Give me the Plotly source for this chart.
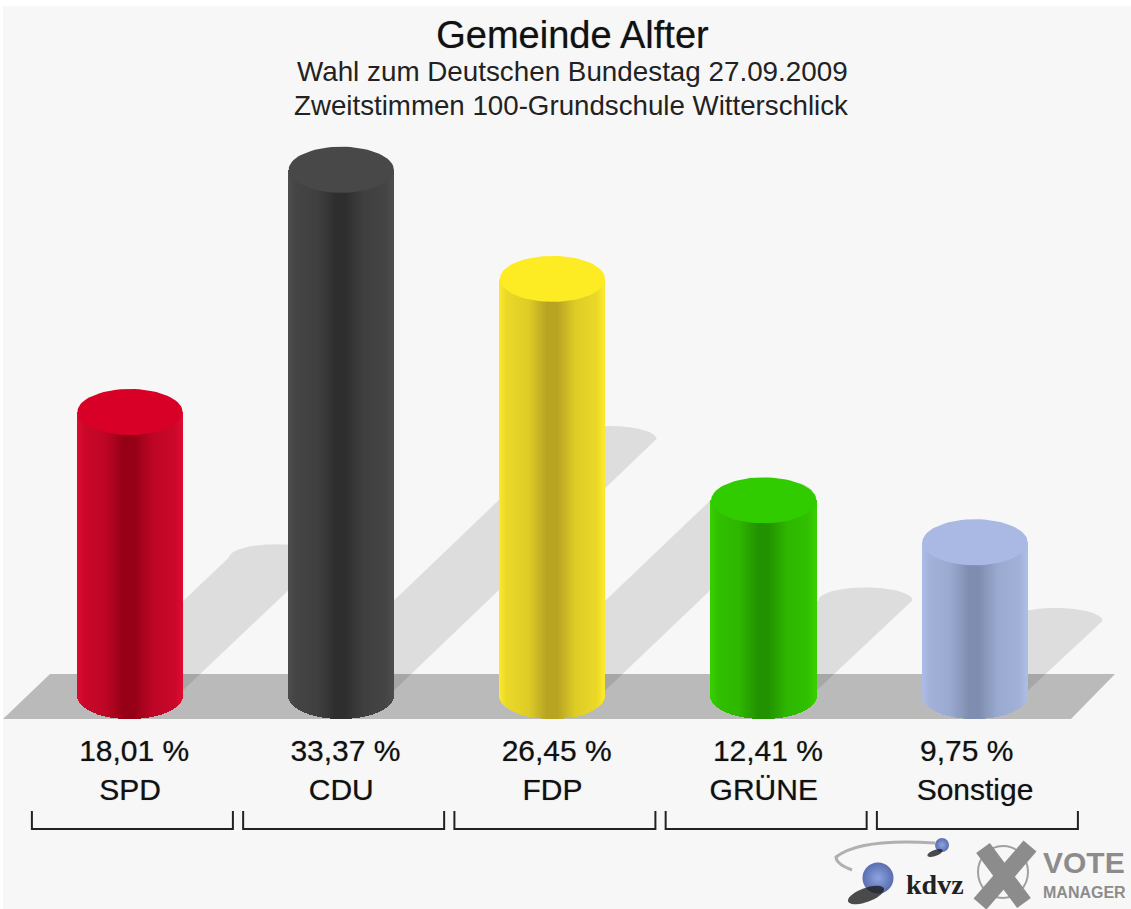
import numpy as np
import plotly.graph_objects as go

# ---- data ----
parties = ["SPD", "CDU", "FDP", "GRÜNE", "Sonstige"]
values = [18.01, 33.37, 26.45, 12.41, 9.75]
value_labels = ["\u00a018,01 %", "\u00a033,37 %", "\u00a026,45 %", "\u00a012,41 %", "9,75 %\u00a0\u00a0"]
edge_colors = ["#dc0a30", "#4c4c4c", "#fbea2a", "#36d000", "#aebde6"]
dark_colors = ["#950017", "#2e2e2e", "#b8a422", "#229300", "#7f8eb0"]
cap_colors = ["#d80027", "#484848", "#fdec24", "#30cc00", "#a9b9e4"]

# ---- layout constants (pixels) ----
W, H = 1131, 909
ML, MT = 3, 6
X0, DX = 130.0, 211.25
Y0, DY = 696.0, 15.77
BAR_RX, BAR_RY = 52.6, 23.0
SH_RX, SH_RY = 47.0, 13.0
SH_DX, SH_OFF, SH_DY = 7.95, 3.0, 7.7
BRACKET_HALF, BRACKET_OFF = 100.5, 2.4
FONT = "Liberation Sans"
BLUR = "0 0 1px rgba(0,0,0,0.45)"


def xd(px):
    return (px - X0) / DX


def yd(py):
    return (Y0 - py) / DY


def mix(a, b, f):
    ca = [int(a[i:i + 2], 16) for i in (1, 3, 5)]
    cb = [int(b[i:i + 2], 16) for i in (1, 3, 5)]
    return "rgb(%d,%d,%d)" % tuple(round(p + (q - p) * f) for p, q in zip(ca, cb))


def poly(xs, ys):
    return "M" + " L".join(f"{x:.4f},{y:.4f}" for x, y in zip(xs, ys)) + " Z"


shapes = []
# floor band
shapes.append(dict(type="path", layer="below", xref="x", yref="y", line_width=0, fillcolor="#bababa",
                   path=poly([xd(3), xd(50), xd(1115), xd(1071)], [yd(719), yd(674), yd(674), yd(719)])))
# cast shadows
th = np.linspace(np.pi, 0, 40)
for i, v in enumerate(values):
    cx_base = X0 + DX * i
    cx = cx_base + SH_OFF + SH_DX * v
    cy = Y0 - SH_DY * v
    px = list(cx + SH_RX * np.cos(th)) + [cx_base + SH_RX, cx_base - SH_RX]
    py = list(cy - SH_RY * np.sin(th)) + [Y0, Y0]
    shapes.append(dict(type="path", layer="below", xref="x", yref="y", line_width=0,
                       fillcolor="rgba(0,0,0,0.1)",
                       path=poly([xd(p) for p in px], [yd(p) for p in py])))

fig = go.Figure()

# cylinders: vertical strips drawn as bars, gradient left-right
N = 106
ts = (np.arange(N) + 0.5) / N * 2 - 1
sw = 2 * BAR_RX / N / DX
for i, (p, v) in enumerate(zip(parties, values)):
    base = -BAR_RY * np.sqrt(1 - ts ** 2) / DY
    f = np.interp(np.abs(ts), [0, 0.1, 0.45, 0.85, 1], [0, 0, 0.58, 0.74, 1])
    fig.add_trace(go.Bar(
        x=i + ts * BAR_RX / DX, y=v - base, base=base, width=sw * 1.5, name=p,
        marker=dict(color=[mix(dark_colors[i], edge_colors[i], q) for q in f], line_width=0),
        showlegend=False, hoverinfo="skip"))

# cylinder tops
th2 = np.linspace(0, 2 * np.pi, 73)
for i, v in enumerate(values):
    fig.add_trace(go.Scatter(
        x=i + BAR_RX / DX * np.cos(th2), y=v + BAR_RY / DY * np.sin(th2),
        mode="lines", fill="toself", fillcolor=cap_colors[i], line=dict(width=0),
        showlegend=False, hoverinfo="skip", name=parties[i] + " top"))

# brackets
bx, by = [], []
for i in range(len(parties)):
    c = X0 + DX * i + BRACKET_OFF
    a, b = xd(c - BRACKET_HALF), xd(c + BRACKET_HALF)
    bx += [a, a, b, b, None]
    by += [yd(811), yd(829), yd(829), yd(811), None]
fig.add_trace(go.Scatter(x=bx, y=by, mode="lines", line=dict(color="#222222", width=2),
                         showlegend=False, hoverinfo="skip"))

# logo: swoosh, kdvz balls and their shadows
shapes.append(dict(type="path", layer="above", xref="x", yref="y", line=dict(color="#b0b0b0", width=3),
                   path=f"M{xd(935)},{yd(843)} Q{xd(860)},{yd(838)} {xd(836)},{yd(857)} Q{xd(836)},{yd(864)} {xd(852)},{yd(870)}"))
for cx, cy, rx, ry, rot in [(866, 895, 19, 7, -20), (935, 853, 8, 3, -20)]:
    a = np.linspace(0, 2 * np.pi, 37)
    c, s = np.cos(np.radians(rot)), np.sin(np.radians(rot))
    ex = cx + rx * np.cos(a) * c - ry * np.sin(a) * s
    ey = cy + rx * np.cos(a) * s + ry * np.sin(a) * c
    shapes.append(dict(type="path", layer="above", xref="x", yref="y", line_width=0,
                       fillcolor="rgba(30,30,30,0.8)",
                       path=poly([xd(q) for q in ex], [yd(q) for q in ey])))
fig.add_trace(go.Scatter(x=[xd(878), xd(942)], y=[yd(878), yd(845)], mode="markers",
                         marker=dict(size=[31, 14], color="#17328f",
                                     gradient=dict(type="radial", color="#5f80d8"), line_width=0),
                         showlegend=False, hoverinfo="skip"))

# logo: crossed circle
shapes.append(dict(type="circle", layer="above", xref="x", yref="y", line=dict(color="#a0a0a0", width=2),
                   x0=xd(978), x1=xd(1028), y0=yd(846), y1=yd(898)))
for a, b, c, d in [(983, 848, 1024, 903), (1030, 846, 980, 904)]:
    shapes.append(dict(type="line", layer="above", xref="x", yref="y", line=dict(color="#8c8c8c", width=17),
                       x0=xd(a), y0=yd(b), x1=xd(c), y1=yd(d)))


def note(text, px, py, size, color="#111111", family=FONT, shadow=None):
    return dict(text=text, xref="x", yref="y", x=xd(px), y=yd(py), showarrow=False,
                xanchor="center", yanchor="middle",
                font=dict(size=size, color=color, family=family, **({"shadow": shadow} if shadow else {})))


annotations = [
    note("Wahl zum Deutschen Bundestag 27.09.2009", 572, 71, 27.8, "#222222"),
    note("Zweitstimmen 100-Grundschule Witterschlick", 571, 105, 27.7, "#222222"),
    note("<b>kdvz</b>", 935, 884, 28, "#222222", "Liberation Serif"),
    note("<b>VOTE</b>", 1084, 862, 30, "#8c8c8c"),
    note("<b>MANAGER</b>", 1084, 892, 16, "#8c8c8c"),
]

fig.update_layout(
    width=W, height=H,
    margin=dict(l=ML, t=MT, r=0, b=0, pad=0),
    paper_bgcolor="#ffffff", plot_bgcolor="#f7f7f7",
    barmode="overlay", bargap=0, showlegend=False,
    title=dict(text="Gemeinde Alfter", x=571 / W, xanchor="center", xref="paper",
               y=1 - 35 / H, yanchor="middle", yref="container",
               font=dict(size=38, family=FONT, color="#111111", shadow=BLUR)),
    xaxis=dict(range=[xd(ML), xd(W)], tickmode="array", tickvals=list(range(len(parties))),
               ticktext=[f"{a}<br>{b}" for a, b in zip(value_labels, parties)],
               tickfont=dict(size=30, family=FONT, color="#111111", shadow=BLUR),
               ticks="", showgrid=False, zeroline=False, showline=False,
               anchor="free", position=(H - 730) / (H - MT), fixedrange=True),
    yaxis=dict(range=[yd(H), yd(MT)], visible=False, fixedrange=True),
    shapes=shapes, annotations=annotations,
)

fig.write_html("out.html", config=dict(displayModeBar=False),
               post_script="document.body.style.margin='0';document.body.style.overflow='hidden';")
